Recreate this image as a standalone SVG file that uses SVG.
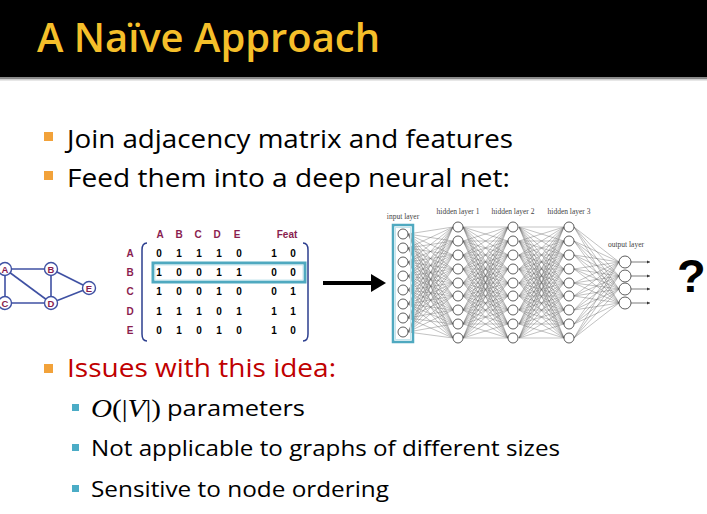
<svg xmlns="http://www.w3.org/2000/svg" xmlns:xlink="http://www.w3.org/1999/xlink" width="707" height="514" viewBox="0 0 707 514">
<style>
.title{font-family:"Open Sans","Noto Sans",sans-serif;font-size:40px;font-weight:600;fill:#f5bf2a}
.b1{font-family:"Open Sans","Noto Sans",sans-serif;font-size:25px;fill:#000}
.b2{font-family:"Open Sans","Noto Sans",sans-serif;font-size:21px;fill:#000}
.red{fill:#c00000}
.gl{font-family:"Liberation Sans",Arial,sans-serif;font-weight:bold;font-size:9.5px;fill:#8a1d4f;text-anchor:middle}
.mh{font-family:"Liberation Sans",Arial,sans-serif;font-weight:bold;font-size:10px;fill:#8a1d4f;text-anchor:middle}
.mv{font-family:"Liberation Sans",Arial,sans-serif;font-weight:bold;font-size:10px;fill:#000;text-anchor:middle}
.nl{font-family:"Liberation Serif","DejaVu Serif",serif;font-size:7.5px;fill:#444;text-anchor:middle}
.gn{fill:#fff;stroke:#3f51a3;stroke-width:1.4}
.ge{stroke:#3f51a3;stroke-width:1.6;fill:none}
.nn{fill:#fff;stroke:#333;stroke-width:0.8}
.wire{stroke:#666;stroke-width:0.4;fill:none}
.obul{fill:#f2a23a}
.tbul{fill:#4bacc6}
</style>
<defs>
<marker id="sm" markerWidth="4" markerHeight="4" refX="3" refY="2" orient="auto" markerUnits="userSpaceOnUse"><path d="M0 0.5L3 2L0 3.5Z" fill="#333"/></marker>
<path id="hh" class="wire" d="M0 227L45 227M0 227L45 241M0 227L45 255M0 227L45 269M0 227L45 283M0 227L45 296M0 227L45 310M0 227L45 324M0 227L45 338M0 241L45 227M0 241L45 241M0 241L45 255M0 241L45 269M0 241L45 283M0 241L45 296M0 241L45 310M0 241L45 324M0 241L45 338M0 255L45 227M0 255L45 241M0 255L45 255M0 255L45 269M0 255L45 283M0 255L45 296M0 255L45 310M0 255L45 324M0 255L45 338M0 269L45 227M0 269L45 241M0 269L45 255M0 269L45 269M0 269L45 283M0 269L45 296M0 269L45 310M0 269L45 324M0 269L45 338M0 283L45 227M0 283L45 241M0 283L45 255M0 283L45 269M0 283L45 283M0 283L45 296M0 283L45 310M0 283L45 324M0 283L45 338M0 296L45 227M0 296L45 241M0 296L45 255M0 296L45 269M0 296L45 283M0 296L45 296M0 296L45 310M0 296L45 324M0 296L45 338M0 310L45 227M0 310L45 241M0 310L45 255M0 310L45 269M0 310L45 283M0 310L45 296M0 310L45 310M0 310L45 324M0 310L45 338M0 324L45 227M0 324L45 241M0 324L45 255M0 324L45 269M0 324L45 283M0 324L45 296M0 324L45 310M0 324L45 324M0 324L45 338M0 338L45 227M0 338L45 241M0 338L45 255M0 338L45 269M0 338L45 283M0 338L45 296M0 338L45 310M0 338L45 324M0 338L45 338"/>
</defs>
<rect width="707" height="514" fill="#fff"/>
<g id="title-bar">
<rect x="0" y="0" width="707" height="77" fill="#000"/>
<rect x="0" y="77" width="707" height="2" fill="#8a8a8a"/>
<rect x="0" y="79" width="707" height="1.5" fill="#d0d0d0"/>
<text class="title" x="37" y="52" textLength="343" lengthAdjust="spacingAndGlyphs">A Naïve Approach</text>
</g>
<g id="top-bullets">
<rect class="obul" x="44" y="132" width="9" height="9"/>
<text class="b1" x="67" y="148" textLength="446" lengthAdjust="spacingAndGlyphs">Join adjacency matrix and features</text>
<rect class="obul" x="44" y="171" width="9" height="9"/>
<text class="b1" x="67" y="187" textLength="443" lengthAdjust="spacingAndGlyphs">Feed them into a deep neural net:</text>
</g>
<g id="connectors">
<g id="graph-edges">
<line class="ge" x1="5" y1="269" x2="51" y2="269"/>
<line class="ge" x1="5" y1="269" x2="5" y2="303"/>
<line class="ge" x1="5" y1="269" x2="51" y2="303"/>
<line class="ge" x1="51" y1="269" x2="51" y2="303"/>
<line class="ge" x1="51" y1="269" x2="89" y2="288"/>
<line class="ge" x1="5" y1="303" x2="51" y2="303"/>
<line class="ge" x1="51" y1="303" x2="89" y2="288"/>
</g>
<g id="main-arrow">
<line x1="323" y1="283" x2="373" y2="283" stroke="#000" stroke-width="4"/>
<path d="M371 274L386 283L371 292Z" fill="#000"/>
</g>
<g id="nn-wires">
<path class="wire" d="M408 234L453 227M408 234L453 241M408 234L453 255M408 234L453 269M408 234L453 283M408 234L453 296M408 234L453 310M408 234L453 324M408 234L453 338M408 248L453 227M408 248L453 241M408 248L453 255M408 248L453 269M408 248L453 283M408 248L453 296M408 248L453 310M408 248L453 324M408 248L453 338M408 262L453 227M408 262L453 241M408 262L453 255M408 262L453 269M408 262L453 283M408 262L453 296M408 262L453 310M408 262L453 324M408 262L453 338M408 276L453 227M408 276L453 241M408 276L453 255M408 276L453 269M408 276L453 283M408 276L453 296M408 276L453 310M408 276L453 324M408 276L453 338M408 290L453 227M408 290L453 241M408 290L453 255M408 290L453 269M408 290L453 283M408 290L453 296M408 290L453 310M408 290L453 324M408 290L453 338M408 304L453 227M408 304L453 241M408 304L453 255M408 304L453 269M408 304L453 283M408 304L453 296M408 304L453 310M408 304L453 324M408 304L453 338M408 318L453 227M408 318L453 241M408 318L453 255M408 318L453 269M408 318L453 283M408 318L453 296M408 318L453 310M408 318L453 324M408 318L453 338M408 332L453 227M408 332L453 241M408 332L453 255M408 332L453 269M408 332L453 283M408 332L453 296M408 332L453 310M408 332L453 324M408 332L453 338"/>
<use xlink:href="#hh" href="#hh" transform="translate(463,0)"/>
<use xlink:href="#hh" href="#hh" transform="translate(519,0)"/>
<path class="wire" d="M574 227L619 262M574 227L619 276M574 227L619 289M574 227L619 303M574 241L619 262M574 241L619 276M574 241L619 289M574 241L619 303M574 255L619 262M574 255L619 276M574 255L619 289M574 255L619 303M574 269L619 262M574 269L619 276M574 269L619 289M574 269L619 303M574 283L619 262M574 283L619 276M574 283L619 289M574 283L619 303M574 296L619 262M574 296L619 276M574 296L619 289M574 296L619 303M574 310L619 262M574 310L619 276M574 310L619 289M574 310L619 303M574 324L619 262M574 324L619 276M574 324L619 289M574 324L619 303M574 338L619 262M574 338L619 276M574 338L619 289M574 338L619 303"/>
<g stroke="#444" stroke-width="0.7" marker-end="url(#sm)">
<line x1="631" y1="262" x2="650" y2="262"/>
<line x1="631" y1="276" x2="650" y2="276"/>
<line x1="631" y1="289" x2="650" y2="289"/>
<line x1="631" y1="303" x2="650" y2="303"/>
</g>
</g>
</g>
<g id="node-A"><circle class="gn" cx="5" cy="269" r="6.5"/><text class="gl" x="5" y="272.5">A</text></g>
<g id="node-B"><circle class="gn" cx="51" cy="269" r="6.5"/><text class="gl" x="51" y="272.5">B</text></g>
<g id="node-C"><circle class="gn" cx="5" cy="303" r="6.5"/><text class="gl" x="5" y="306.5">C</text></g>
<g id="node-D"><circle class="gn" cx="51" cy="303" r="6.5"/><text class="gl" x="51" y="306.5">D</text></g>
<g id="node-E"><circle class="gn" cx="89" cy="288" r="6.5"/><text class="gl" x="89" y="291.5">E</text></g>
<g id="matrix">
<text class="mh" x="160" y="238">A</text><text class="mh" x="179" y="238">B</text><text class="mh" x="198" y="238">C</text><text class="mh" x="217" y="238">D</text><text class="mh" x="237" y="238">E</text><text class="mh" x="287" y="238">Feat</text>
<text class="mh" x="130" y="257">A</text><text class="mh" x="130" y="276">B</text><text class="mh" x="130" y="295">C</text><text class="mh" x="130" y="315">D</text><text class="mh" x="130" y="334">E</text>
<path d="M147 243Q142 243 142 250L142 334Q142 341 147 341" fill="none" stroke="#2d3f8f" stroke-width="1.5"/>
<path d="M303 243Q308 243 308 250L308 334Q308 341 303 341" fill="none" stroke="#2d3f8f" stroke-width="1.5"/>
<rect x="153" y="263" width="152" height="19" fill="none" stroke="#4fa9c0" stroke-width="3"/>
<rect x="155" y="265" width="148" height="15" fill="none" stroke="#c6e6ee" stroke-width="1"/>
<g class="mv">
<text x="159" y="257">0</text><text x="179" y="257">1</text><text x="199" y="257">1</text><text x="219" y="257">1</text><text x="239" y="257">0</text><text x="274" y="257">1</text><text x="293" y="257">0</text>
<text x="159" y="276">1</text><text x="179" y="276">0</text><text x="199" y="276">0</text><text x="219" y="276">1</text><text x="239" y="276">1</text><text x="274" y="276">0</text><text x="293" y="276">0</text>
<text x="159" y="295">1</text><text x="179" y="295">0</text><text x="199" y="295">0</text><text x="219" y="295">1</text><text x="239" y="295">0</text><text x="274" y="295">0</text><text x="293" y="295">1</text>
<text x="159" y="315">1</text><text x="179" y="315">1</text><text x="199" y="315">1</text><text x="219" y="315">0</text><text x="239" y="315">1</text><text x="274" y="315">1</text><text x="293" y="315">1</text>
<text x="159" y="334">0</text><text x="179" y="334">1</text><text x="199" y="334">0</text><text x="219" y="334">1</text><text x="239" y="334">0</text><text x="274" y="334">1</text><text x="293" y="334">0</text>
</g>
</g>
<g id="input-layer">
<text class="nl" x="403" y="219">input layer</text>
<rect x="393" y="225" width="20" height="117" fill="none" stroke="#4fa9c0" stroke-width="2.5"/>
<rect x="395.5" y="227.5" width="15" height="112" fill="none" stroke="#c6e6ee" stroke-width="1"/>
<circle class="nn" cx="403" cy="234" r="5"/><circle class="nn" cx="403" cy="248" r="5"/><circle class="nn" cx="403" cy="262" r="5"/><circle class="nn" cx="403" cy="276" r="5"/><circle class="nn" cx="403" cy="290" r="5"/><circle class="nn" cx="403" cy="304" r="5"/><circle class="nn" cx="403" cy="318" r="5"/><circle class="nn" cx="403" cy="332" r="5"/>
</g>
<g id="hidden-layer-1">
<text class="nl" x="458" y="214">hidden layer 1</text>
<circle class="nn" cx="458" cy="227" r="5"/><circle class="nn" cx="458" cy="241" r="5"/><circle class="nn" cx="458" cy="255" r="5"/><circle class="nn" cx="458" cy="269" r="5"/><circle class="nn" cx="458" cy="283" r="5"/><circle class="nn" cx="458" cy="296" r="5"/><circle class="nn" cx="458" cy="310" r="5"/><circle class="nn" cx="458" cy="324" r="5"/><circle class="nn" cx="458" cy="338" r="5"/>
</g>
<g id="hidden-layer-2">
<text class="nl" x="513" y="214">hidden layer 2</text>
<circle class="nn" cx="513" cy="227" r="5"/><circle class="nn" cx="513" cy="241" r="5"/><circle class="nn" cx="513" cy="255" r="5"/><circle class="nn" cx="513" cy="269" r="5"/><circle class="nn" cx="513" cy="283" r="5"/><circle class="nn" cx="513" cy="296" r="5"/><circle class="nn" cx="513" cy="310" r="5"/><circle class="nn" cx="513" cy="324" r="5"/><circle class="nn" cx="513" cy="338" r="5"/>
</g>
<g id="hidden-layer-3">
<text class="nl" x="569" y="214">hidden layer 3</text>
<circle class="nn" cx="569" cy="227" r="5"/><circle class="nn" cx="569" cy="241" r="5"/><circle class="nn" cx="569" cy="255" r="5"/><circle class="nn" cx="569" cy="269" r="5"/><circle class="nn" cx="569" cy="283" r="5"/><circle class="nn" cx="569" cy="296" r="5"/><circle class="nn" cx="569" cy="310" r="5"/><circle class="nn" cx="569" cy="324" r="5"/><circle class="nn" cx="569" cy="338" r="5"/>
</g>
<g id="output-layer">
<text class="nl" x="626" y="247">output layer</text>
<circle class="nn" cx="625" cy="262" r="6"/><circle class="nn" cx="625" cy="276" r="6"/><circle class="nn" cx="625" cy="289" r="6"/><circle class="nn" cx="625" cy="303" r="6"/>
</g>
<g id="question">
<text x="677" y="292" font-family="Liberation Sans, Arial, sans-serif" font-weight="bold" font-size="47" fill="#000">?</text>
</g>
<g id="issues">
<rect class="obul" x="44" y="364" width="9" height="9"/>
<text class="b1 red" x="67" y="377" textLength="269" lengthAdjust="spacingAndGlyphs">Issues with this idea:</text>
<rect class="tbul" x="72" y="404" width="7" height="7"/>
<text x="91" y="417" font-family="Liberation Serif, serif" font-size="26" fill="#000" textLength="70" lengthAdjust="spacingAndGlyphs"><tspan font-style="italic">O</tspan>(|<tspan font-style="italic">V</tspan>|)</text>
<text class="b2" x="167" y="416" textLength="138" lengthAdjust="spacingAndGlyphs">parameters</text>
<rect class="tbul" x="72" y="444" width="7" height="7"/>
<text class="b2" x="91" y="456" textLength="469" lengthAdjust="spacingAndGlyphs">Not applicable to graphs of different sizes</text>
<rect class="tbul" x="72" y="485" width="7" height="7"/>
<text class="b2" x="91" y="497" textLength="298" lengthAdjust="spacingAndGlyphs">Sensitive to node ordering</text>
</g>
</svg>
